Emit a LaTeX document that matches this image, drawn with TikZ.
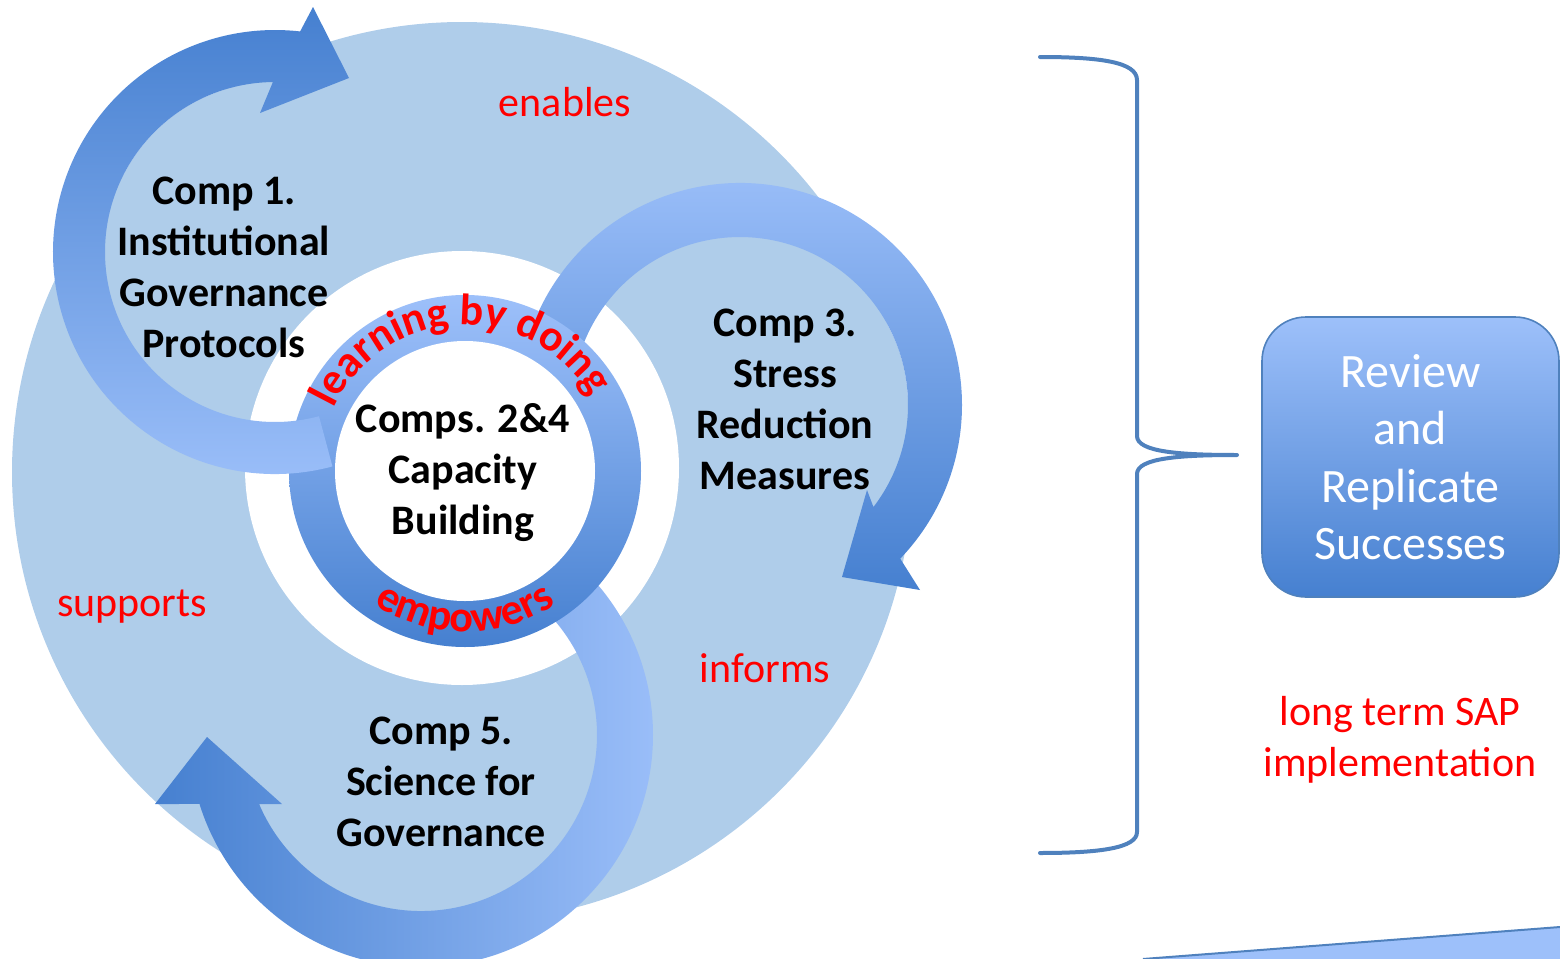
\documentclass[tikz,border=0pt]{standalone}
\usepackage{fontspec}
\setmainfont{Carlito}
\usetikzlibrary{calc,decorations.text}
\definecolor{discblue}{HTML}{AFCDEA}
\definecolor{arrowlight}{HTML}{9DC0FA}
\definecolor{arrowdark}{HTML}{4680D0}
\definecolor{edgeblue}{HTML}{4F81BD}
\definecolor{labelred}{HTML}{FF0000}
\tikzset{
  comp/.style={align=center, font=\bfseries\fontsize{21}{25.5}\selectfont},
  verb/.style={align=center, text=labelred, font=\fontsize{21}{25.5}\selectfont},
  brace/.style={draw=edgeblue, line width=2pt, line cap=round, line join=round},
  reviewbox/.style={rounded corners=22pt, draw=edgeblue, line width=0.8pt,
    top color=arrowlight, bottom color=arrowdark, text=white, align=center,
    minimum width=148.5pt, minimum height=140pt,
    font=\fontsize{24}{28.75}\selectfont}
}
\newcommand\ringfont{\bfseries\fontsize{22}{26}\selectfont\color{labelred}}

\begin{document}
\begin{tikzpicture}[x=0.5pt, y=-0.5pt]
  \useasboundingbox (0,0) rectangle (1560,959);
  \coordinate (odisc) at (462,472);
  \coordinate (ohole) at (462,468);
  \coordinate (oring) at (465,471);
  \coordinate (o1) at (275,252);
  \coordinate (o3) at (740,405);
  \coordinate (o5) at (421,735);

  % background, with the insides of the three arrows
  \fill[discblue] (odisc) circle[radius=450];
  \fill[discblue] (o1) circle[radius=170];
  \fill[discblue] (o3) circle[radius=168];
  \fill[discblue] (o5) circle[radius=176];
  \fill[white] (ohole) circle[radius=217];

  % Comp 3 arrow
  \path[top color=arrowlight, bottom color=arrowdark]
    ($(o3)+(200:222)$) arc[start angle=200, end angle=403.8, radius=222]
    -- (920,590) -- (842,577) -- (867,490)
    -- ($(o3)+(397.4:168)$) arc[start angle=397.4, end angle=200, radius=168] -- cycle;

  % Comp 5 arrow
  \path[left color=arrowdark, right color=arrowlight]
    ($(o5)+(-45:232)$) arc[start angle=-45, end angle=162.7, radius=232]
    -- (155,804) -- (207,737) -- (282,804)
    -- ($(o5)+(156.9:176)$) arc[start angle=156.9, end angle=-45, radius=176] -- cycle;

  % ring
  \path[top color=arrowlight, bottom color=arrowdark] (oring) circle[radius=176];
  \fill[white] (oring) circle[radius=130];

  % Comp 1 arrow
  \path[top color=arrowdark, bottom color=arrowlight]
    ($(o1)+(75:222)$) arc[start angle=75, end angle=276.5, radius=222]
    -- (313,7) -- (349,78) -- (260,113)
    -- ($(o1)+(269.3:170)$) arc[start angle=269.3, end angle=75, radius=170] -- cycle;

  % ring texts
  \path[decorate, decoration={text along path, text align=center,
      text={|\ringfont|learning by doing}}]
    ($(oring)+(195:146)$) arc[start angle=195, end angle=340, radius=146];
  \path[decorate, decoration={text along path, text align=center,
      text={|\ringfont|empowers}}]
    ($(oring)+(140:161)$) arc[start angle=140, end angle=40, radius=161];

  % components
  \node[comp] (comp1) at (224,267) {Comp 1.\\Institutional\\Governance\\Protocols};
  \node[comp] (comp3) at (785,399) {Comp 3.\\Stress\\Reduction\\Measures};
  \node[comp] (cap) at (463,473) {Comps. 2\&4\\Capacity\\Building};
  \node[comp] (comp5) at (441,782) {Comp 5.\\Science for\\Governance};

  \node[verb] (enables) at (565,102) {enables};
  \node[verb] (supports) at (132,607) {supports};
  \node[verb] (informs) at (765,668) {informs};

  % brace and outcome
  \coordinate (tip) at (1237,455);
  \draw[brace] (1040,57) .. controls (1100,57) and (1137,62) .. (1137,80)
    -- (1137,436) .. controls (1137,452) and (1180,455) .. (tip)
    .. controls (1180,455) and (1137,458) .. (1137,474)
    -- (1137,832) .. controls (1137,848) and (1100,853) .. (1040,853);
  \node[reviewbox] (review) at (1410.5,457) {Review\\and\\Replicate\\Successes};
  \node[verb] (sap) at (1400,740) {long term SAP\\implementation};

  % strip at the bottom
  \path[fill=arrowlight] (1143,959) -- (1560,927) -- (1560,959) -- cycle;
  \draw[edgeblue, line width=1pt] (1143,959) -- (1560,927);
\end{tikzpicture}
\end{document}
